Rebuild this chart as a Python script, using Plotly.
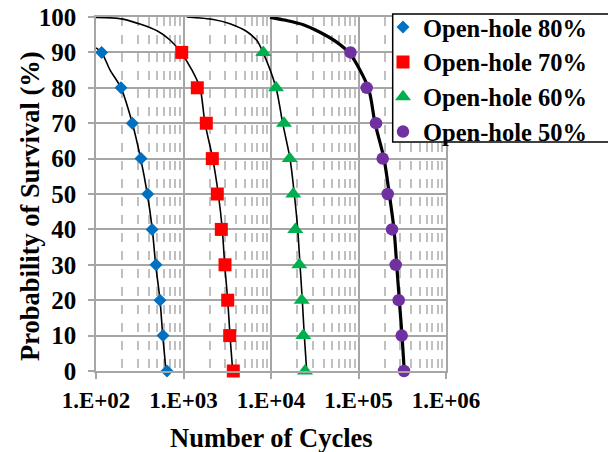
import plotly.graph_objects as go

# ---- data ----
prob_levels = [90, 80, 70, 60, 50, 40, 30, 20, 10, 0]

cycles_80 = [116, 193, 260, 327, 390, 437, 485, 539, 583, 648]
cycles_70 = [954, 1438, 1822, 2134, 2434, 2704, 2981, 3201, 3373, 3708]
cycles_60 = [8166, 11404, 14082, 16357, 17984, 18955, 21060, 22430, 23393, 24466]
cycles_50 = [81020, 124100, 158500, 189100, 215700, 241500, 266200, 288000, 311700, 331100]

# fitted curves
fit80_n = [100, 116, 145, 193, 260, 324, 386, 440, 481, 539, 579, 631]
fit80_p = [91.3, 90, 85, 80, 70, 60, 50, 40, 30, 20, 10, 0]
fit70_n = [100, 203, 498, 701, 936, 1250, 1544, 1761, 2157, 2499, 2776, 2957, 3201, 3400, 3650]
fit70_p = [99.9, 99.4, 96.1, 93.5, 90, 85, 80, 70, 60, 50, 40, 30, 20, 10, 0]
fit60_n = [1088, 2191, 3400, 5277, 6865, 8104, 11404, 13601, 16488, 18463, 20193, 21455, 22786, 24021, 25586]
fit60_p = [100, 99.3, 98.1, 95.9, 93.4, 90, 80, 70, 60, 50, 40, 30, 20, 10, 0]
fit50_n = [9740, 15117, 23393, 36300, 56350, 79960, 129400, 154400, 195600, 224900, 254500, 273300, 292600, 314200, 333700]
fit50_p = [99.9, 99.0, 97.8, 95.7, 92.9, 89.6, 80, 70, 60, 50, 40, 30, 20, 10, 0]

series_names = ["Open-hole 80%", "Open-hole 70%", "Open-hole 60%", "Open-hole 50%"]
x_tick_vals = [1e2, 1e3, 1e4, 1e5, 1e6]
x_tick_text = ["1.E+02", "1.E+03", "1.E+04", "1.E+05", "1.E+06"]
y_tick_vals = [0, 10, 20, 30, 40, 50, 60, 70, 80, 90, 100]
x_title = "Number of Cycles"
y_title = "Probability of Survival (%)"

FONT = "serif"


def bold(s):
    return "<b>" + s + "</b>"


fig = go.Figure()

# curves
for n, p, w in [(fit80_n, fit80_p, 1.6), (fit70_n, fit70_p, 1.6),
                (fit60_n, fit60_p, 1.6), (fit50_n, fit50_p, 3.2)]:
    fig.add_trace(go.Scatter(x=n, y=p, mode="lines",
                             line=dict(color="black", width=w, shape="spline", smoothing=0.8),
                             showlegend=False, hoverinfo="skip"))

marker_styles = [
    dict(symbol="diamond", color="#0070C0", size=10),
    dict(symbol="square", color="#FF0000", size=13),
    dict(symbol="triangle-up", color="#00B050", size=14),
    dict(symbol="circle", color="#7030A0", size=12.5),
]
for name, cyc, ms in zip(series_names, [cycles_80, cycles_70, cycles_60, cycles_50], marker_styles):
    fig.add_trace(go.Scatter(x=cyc, y=prob_levels, mode="markers", name=bold(name),
                             marker=dict(symbol=ms["symbol"], color=ms["color"], size=ms["size"],
                                         line=dict(width=0)),
                             cliponaxis=False))

# legend frame (drawn as a shape so the entries can sit tight to the left edge)
fig.add_shape(type="rect", xref="paper", yref="paper",
              x0=0.8477, x1=1.4734, y0=0.6469, y1=1.0085,
              line=dict(color="black", width=1.5), fillcolor="white", layer="above")

fig.update_layout(
    width=608, height=444,
    margin=dict(l=88, r=170, t=9, b=81, autoexpand=False),
    paper_bgcolor="white", plot_bgcolor="white",
    font=dict(family=FONT, color="black"),
    legend=dict(x=0.82, y=1.035, xanchor="left", yanchor="top",
                bgcolor="rgba(0,0,0,0)", borderwidth=0,
                font=dict(family=FONT, size=24.5, color="black"),
                itemwidth=30, tracegroupgap=0),
    xaxis=dict(
        type="log", range=[2, 6], automargin=False,
        tickvals=x_tick_vals, ticktext=[bold(t) for t in x_tick_text],
        tickfont=dict(family=FONT, size=23, color="black"),
        ticklabeloverflow="allow",
        showgrid=True, gridcolor="#a6a6a6", gridwidth=1.5,
        showline=True, linecolor="#a6a6a6", linewidth=1.5, mirror=True,
        ticks="outside", ticklen=6, tickcolor="#a6a6a6", tickwidth=1.5,
        ticklabelstandoff=2,
        minor=dict(dtick="D1", showgrid=True, gridcolor="#c0c0c0", gridwidth=1.5, griddash="dash",
                   ticks=""),
        zeroline=False,
    ),
    yaxis=dict(
        range=[0, 100], automargin=False,
        tickvals=y_tick_vals, ticktext=[bold(str(v)) for v in y_tick_vals],
        tickfont=dict(family=FONT, size=25, color="black"),
        ticklabeloverflow="allow",
        showgrid=True, gridcolor="#a6a6a6", gridwidth=1.5,
        showline=True, linecolor="#a6a6a6", linewidth=1.5, mirror=True,
        ticks="outside", ticklen=6, tickcolor="#a6a6a6", tickwidth=1.5,
        ticklabelstandoff=7,
        zeroline=False,
    ),
    annotations=[
        dict(text=bold(x_title), xref="paper", yref="paper", x=0.5, y=-0.188,
             xanchor="center", yanchor="middle", showarrow=False,
             font=dict(family=FONT, size=26.5, color="black")),
        dict(text=bold(y_title), xref="paper", yref="paper", x=-0.189, y=0.466,
             xanchor="center", yanchor="middle", showarrow=False, textangle=-90,
             font=dict(family=FONT, size=26.5, color="black")),
    ],
)

fig.write_html("out.html")
